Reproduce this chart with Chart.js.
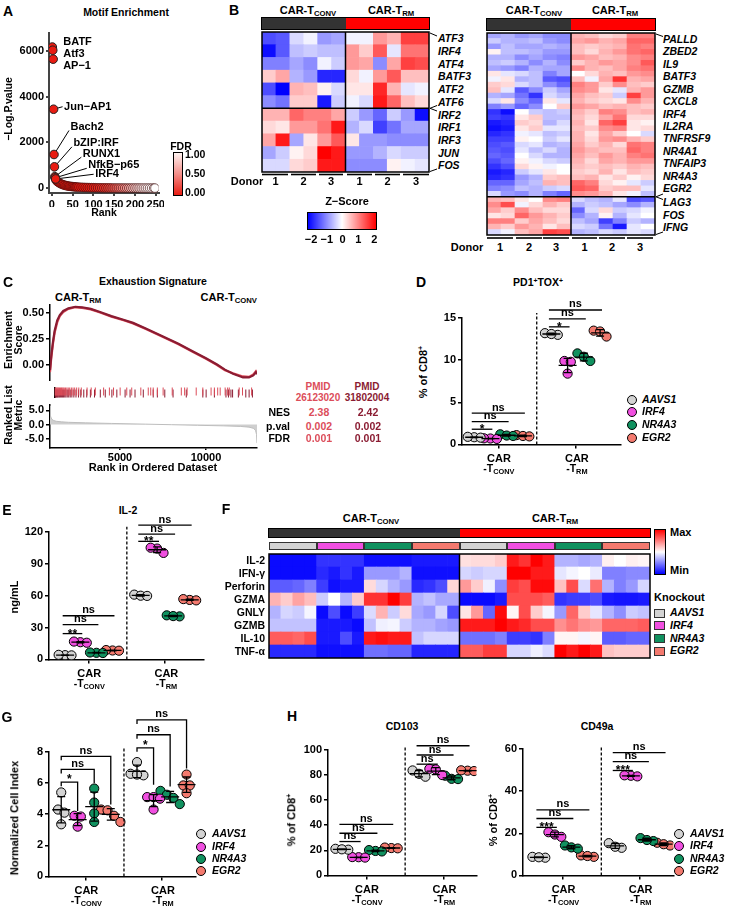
<!DOCTYPE html>
<html>
<head>
<meta charset="utf-8">
<title>CAR-T figure</title>
<script src="https://cdn.jsdelivr.net/npm/chart.js@4.4.0/dist/chart.umd.min.js"></script>
<style>
  html, body { margin: 0; padding: 0; background: #fff; }
  #root { position: relative; width: 737px; height: 909px; overflow: hidden;
          font-family: 'Liberation Sans', Arial, sans-serif; font-weight: bold; color: #000; }
  #root canvas { position: absolute; }
  .t { position: absolute; white-space: nowrap; line-height: 1.05; }
  .sb { font-size: 70%; position: relative; top: 0.3em; }
  .sp { font-size: 65%; position: relative; top: -0.5em; }
  .box { position: absolute; box-sizing: border-box; }
</style>
</head>
<body>
<div id="root"></div>
<script>
// ---------------- data ----------------
// A - motif enrichment
const motifRank = [1,2,3,4,5,6,7,8,9,
  10,13,16,19,22,25,28,31,34,37,40,43,46,49,52,55,58,61,
  65,70,75,80,85,90,95,100,105,110,115,120,125,130,135,140,145,150,155,160,165,170,175,180,185,190,195,200,205,210,215,220,225,230,235,240,245,248];
const motifLogP = [6170,6030,5640,3450,1470,930,500,450,400,
  340,285,245,210,182,160,140,124,110,98,88,80,72,66,60,55,50,46,
  42,37,33,29,26,23,21,19,17,15,14,12,11,10,9,8,7,6,6,5,5,4,4,3,3,3,2,2,2,2,1,1,1,1,1,0,0,0];
const motifFdr  = [0,0,0,0,0,0,0,0,0,
  0,0,0,0,0,0,0,0,0,0,0,0,0,0,0,0,0,0,
  0,0,0.01,0.01,0.02,0.02,0.03,0.04,0.05,0.06,0.08,0.1,0.12,0.14,0.17,0.2,0.23,0.27,0.31,0.35,
  0.4,0.45,0.5,0.55,0.6,0.65,0.7,0.75,0.79,0.83,0.87,0.9,0.93,0.95,0.97,0.98,0.99,1.0];
const motifNames = ['BATF', 'Atf3', 'AP\u22121', 'Jun\u2212AP1', 'Bach2', 'bZIP:IRF', 'RUNX1', 'NfkB\u2212p65', 'IRF4'];
const fdrTicks = ['1.00', '0.50', '0.00'];

// B - z-scores, 12 columns: CAR-Tconv donor 1,1,2,2,3,3 then CAR-Trm donor 1,1,2,2,3,3
const tfGenes = ['ATF3','IRF4','ATF4','BATF3','ATF2','ATF6','IRF2','IRF1','IRF3','JUN','FOS'];
const tfZ = [
  [-1.4,-1.3,-0.3,-0.1,-0.8,-0.7, -0.1,-0.1,0.8,0.6,1.5,1.5],
  [-1.9,-1.3,-0.5,-0.4,-0.5,-0.5, 0.8,0.4,1.3,-0.2,1.1,1.1],
  [-1.0,-1.0,-0.7,-0.9,-0.1,-0.4, 0.8,0.7,-0.9,0.7,1.5,1.4],
  [0.4,0.7,-0.6,-0.8,-1.7,-1.7, 0.3,-0.1,0.8,1.3,0.5,0.5],
  [-1.4,-2.2,0.6,0.5,0.1,-0.3, 0.2,0.2,1.7,0.6,-0.2,-0.1],
  [-0.9,-1.1,0.4,0.4,-1.8,-0.4, -0.1,-0.3,1.8,1.2,0.5,0.3],
  [0.6,0.6,1.2,1.0,1.0,0.7, -0.4,-0.8,-1.2,-0.4,-0.8,-1.9],
  [0.3,0.2,0.8,0.8,1.1,1.8, -0.6,-0.3,-1.5,-1.1,-0.7,-0.7],
  [0.7,1.8,-0.7,0.2,0.8,1.3, 0.2,-0.8,-0.8,-0.9,-0.9,-0.9],
  [-0.7,-0.4,0.1,0.3,2.2,1.8, -0.8,-0.8,-0.6,-0.3,-0.4,-0.4],
  [-0.3,-0.3,0.3,0.4,1.8,1.8, -0.9,-0.9,-0.9,0.1,-0.1,-0.2]
];
const degUp = ['PALLD','ZBED2','IL9','BATF3','GZMB','CXCL8','IRF4','IL2RA','TNFRSF9','NR4A1','TNFAIP3','NR4A3','EGR2'];
const degDown = ['LAG3','FOS','IFNG'];
const degZ = [
  [-0.7,-0.6,-0.8,-0.7,-0.9,-0.9, 0.6,0.5,0.3,0.4,1.0,1.0],
  [-0.4,-0.6,-0.6,-0.5,-0.8,-0.9, 0.7,0.8,0.6,0.7,1.2,1.2],
  [-0.8,-0.5,-0.7,-0.7,-0.6,-0.7, 0.5,0.4,0.5,0.6,1.1,1.0],
  [0.1,-0.5,-0.5,-0.6,-0.8,-0.8, 0.5,0.3,0.6,0.8,1.1,1.2],
  [-0.6,-0.6,-0.9,-0.7,-0.9,-1.0, 0.8,0.7,0.5,0.6,0.9,1.0],
  [-0.5,-0.4,-0.6,-0.9,-0.6,-0.9, 0.4,0.6,0.8,0.7,0.9,1.3],
  [-0.7,-0.8,-1.0,-0.6,-0.7,-0.7, 0.9,0.6,0.5,0.7,1.0,1.1],
  [0.2,-0.2,-0.3,-0.5,-1.0,-0.7, 0.0,0.3,0.6,0.5,0.8,0.9],
  [-0.1,0.2,-0.6,-0.5,-1.3,-1.4, 0.5,-0.1,0.7,1.6,0.6,0.7],
  [0.4,0.3,-0.3,-0.5,-0.9,-1.2, 1.0,0.8,0.4,0.9,0.5,0.4],
  [0.5,-0.2,-1.3,-0.9,-0.4,-0.7, 0.9,0.8,0.2,-0.2,0.6,0.8],
  [-0.6,-0.7,-1.1,-1.6,-0.3,-0.5, 0.7,0.5,0.4,-0.4,1.5,0.8],
  [-0.3,0.2,-0.9,-1.2,0.2,-0.2, 0.6,0.4,0.3,0.2,0.9,0.6],
  [-1.0,-0.8,-1.2,-0.9,0.0,0.4, 0.8,0.7,0.5,0.6,0.5,0.4],
  [-1.6,-1.9,0.0,-0.4,-0.5,-0.4, 0.6,0.4,1.0,0.9,0.5,0.6],
  [-1.5,-1.6,0.2,0.4,-0.5,-0.5, 0.5,0.3,0.7,1.1,0.3,0.3],
  [-1.8,-1.7,0.4,0.3,-0.6,-0.3, 0.6,0.2,1.2,1.5,0.2,0.1],
  [-1.9,-1.8,0.2,0.4,-0.2,-0.2, 0.5,0.4,0.9,1.0,0.2,0.3],
  [-1.7,-1.6,-0.1,-0.2,-0.5,-0.4, 0.6,0.2,0.7,0.4,0.0,-0.3],
  [-1.5,-1.5,0.1,0.0,-0.4,-0.2, 0.6,0.3,0.8,0.9,0.6,0.4],
  [-1.4,-1.3,-0.3,-0.2,-0.6,-0.5, 0.7,0.4,0.6,0.3,1.1,1.0],
  [-1.3,-1.4,-0.2,-0.5,-0.3,-0.6, 0.8,0.6,0.5,0.5,1.2,1.0],
  [-1.2,-1.3,0.0,-0.3,-0.6,-0.6, 0.7,0.5,0.8,0.6,1.0,1.1],
  [-1.4,-1.2,0.1,-0.1,-0.3,-0.4, 0.6,0.3,0.7,0.6,0.8,0.8],
  [-1.6,-1.4,0.3,0.1,-0.1,0.0, 0.5,0.4,0.5,0.4,0.6,0.5],
  [-1.8,-1.7,-0.4,-0.2,0.2,0.0, 0.4,0.3,0.6,0.2,0.5,0.4],
  [-1.7,-1.6,-0.8,-0.6,0.4,0.5, 0.5,0.6,0.2,0.4,0.1,0.3],
  [-1.2,-1.2,-0.7,-0.5,0.6,0.5, 1.2,1.0,0.3,0.1,-0.2,-0.4],
  [-1.0,-0.9,-0.5,-0.6,-0.4,-0.3, 1.3,1.2,0.4,0.5,0.5,-0.2],
  [-0.3,-0.8,-0.9,-0.6,-1.0,-1.2, 0.9,0.8,0.6,0.2,-0.1,-0.5],
  [0.6,0.5,0.2,0.0,0.9,1.0, -0.3,-0.5,-0.6,-0.2,-1.4,-1.3],
  [0.9,1.4,-0.1,0.3,0.6,0.4, -0.6,-0.4,-0.5,-0.7,-0.9,-0.6],
  [0.7,0.4,0.9,0.5,0.3,0.3, -1.2,-0.3,0.3,-0.4,-0.3,-0.1],
  [0.2,0.3,1.2,0.8,0.6,0.4, -0.9,-0.6,0.1,-0.6,-0.2,0.0],
  [1.0,1.0,0.4,0.7,0.5,0.3, -0.5,-0.7,-1.5,-1.0,-0.4,-0.6],
  [0.6,0.4,0.8,0.6,0.2,0.5, -0.3,-0.4,-1.1,-1.8,-0.2,0.0],
  [-0.3,-0.1,0.5,0.7,1.5,1.4, -0.6,-0.5,-0.3,-0.4,-0.2,-0.3]
];
const degUpRows = 30;
const donors = ['1', '2', '3'];
const zTicks = ['\u22122', '\u22121', '0', '1', '2'];

// C - GSEA exhaustion signature
const esRank = [930,1000,1100,1200,1350,1500,1700,2000,2400,2800,3300,3840,4500,5200,5760,6500,7500,8400,9245,10000,10640,11100,11570,12150,12500,12750,12900,12965];
const esSetA = [-0.07,0.06,0.2,0.31,0.41,0.47,0.51,0.54,0.555,0.55,0.535,0.505,0.465,0.43,0.4,0.345,0.27,0.2,0.125,0.06,0.0,-0.05,-0.08,-0.11,-0.115,-0.09,-0.06,-0.08];
const esSetB = [-0.05,0.08,0.22,0.33,0.43,0.48,0.52,0.545,0.56,0.555,0.54,0.51,0.47,0.435,0.405,0.35,0.275,0.205,0.13,0.065,0.005,-0.045,-0.085,-0.12,-0.12,-0.1,-0.07,-0.09];
const hitsA = [960,1000,1040,1090,1130,1180,1230,1290,1350,1400,1460,1520,1600,1680,1760,1850,1950,2050,2150,2270,2400,2550,2900,3150,3400,3900,4250,4500,4900,5300,5600,6150,6600,6750,6900,7150,7500,8050,8600,8800,8950,9500,9900,10400,10600,10800,10950,11250,11400,11500,12100,12300,12850];
const hitsB = [960,990,1020,1060,1100,1140,1190,1240,1300,1360,1420,1480,1550,1620,1700,1790,1880,1980,2100,2230,2380,2520,2700,2880,3100,3350,3700,4000,4400,4700,5200,5500,5800,6300,6900,7150,7600,8100,8900,9900,10100,10600,11300,11450,11600,11700,12050,12500,12700,12900];
const metricRank = [930,945,970,1000,1050,1150,1300,1600,2000,3000,4500,6500,8000,9500,11000,12000,12500,12750,12880,12940,12965];
const metricVal  = [6.5,4.2,3.0,2.3,1.8,1.4,1.15,0.95,0.8,0.6,0.4,0.15,-0.05,-0.25,-0.45,-0.65,-0.9,-1.3,-2.0,-3.5,-6.5];
const gseaPmid = ['26123020', '31802004'];
const gseaNes = ['2.38', '2.42'];
const gseaP = ['0.002', '0.002'];
const gseaFdr = ['0.001', '0.001'];

// D-H - knockouts in CAR-Tconv and CAR-Trm, one array per replicate set
const knockouts = ['AAVS1', 'IRF4', 'NR4A3', 'EGR2'];
const pd1Conv = [[0.85,0.9,0.8],[0.7,0.65,0.72],[1.2,1.05,1.0],[1.1,1.0,0.95]];
const pd1Trm  = [[13.2,13.0,13.1],[9.9,9.8,8.4],[10.8,10.4,9.9],[13.5,13.4,12.8]];
const il2Conv = [[4.0,4.3,3.8],[16.2,16.8,15.7],[6.2,6.5,6.0],[8.4,8.8,8.2]];
const il2Trm  = [[61,60,59.8],[100.3,104.4,105.2],[40.5,41.5,40.8],[56,55.6,56.8]];
const cytoRows = ['IL-2', 'IFN-\u03b3', 'Perforin', 'GZMA', 'GNLY', 'GZMB', 'IL-10', 'TNF-\u03b1'];
const cytoVals = [
  [0.02,0.02,0.02,0.02, 0.10,0.10,0.10,0.10, 0.03,0.03,0.03,0.03, 0.05,0.05,0.05,0.05, 0.56,0.57,0.57,0.60, 0.95,0.90,1.00,0.95, 0.35,0.35,0.33,0.35, 0.53,0.50,0.53,0.52],
  [0.02,0.02,0.02,0.02, 0.08,0.05,0.10,0.05, 0.30,0.30,0.30,0.35, 0.03,0.03,0.03,0.03, 0.42,0.40,0.42,0.42, 1.00,1.00,0.95,0.95, 0.45,0.48,0.50,0.46, 0.25,0.25,0.27,0.27],
  [0.18,0.18,0.20,0.25, 0.12,0.03,0.05,0.05, 0.57,0.42,0.35,0.30, 0.08,0.10,0.15,0.58, 0.70,0.60,0.47,0.28, 0.88,0.85,0.98,0.98, 0.62,0.85,0.43,0.78, 0.35,0.25,0.30,0.42],
  [0.65,0.60,0.68,0.63, 0.40,0.50,0.35,0.60, 0.90,0.90,1.00,0.88, 0.35,0.38,0.33,0.33, 0.02,0.02,0.02,0.05, 0.85,0.85,0.85,0.82, 0.10,0.12,0.12,0.15, 0.05,0.04,0.04,0.05],
  [0.35,0.42,0.40,0.48, 0.02,0.15,0.02,0.12, 0.43,0.65,0.40,0.57, 0.33,0.30,0.42,0.15, 0.55,0.70,0.20,0.98, 0.52,0.85,0.60,0.48, 0.30,0.80,0.60,0.45, 0.35,0.28,0.40,0.38],
  [0.38,0.38,0.38,0.38, 0.05,0.05,0.05,0.02, 0.38,0.47,0.48,0.40, 0.35,0.35,0.32,0.30, 0.95,0.95,0.95,1.00, 0.95,0.92,0.85,0.85, 0.72,0.77,0.72,0.70, 0.80,0.80,0.80,0.82],
  [0.82,0.82,0.80,0.85, 0.05,0.05,0.15,0.05, 0.95,0.97,0.95,0.95, 0.38,0.42,0.42,0.42, 0.22,0.22,0.22,0.25, 0.12,0.12,0.10,0.25, 0.52,0.52,0.48,0.52, 0.18,0.18,0.20,0.20],
  [0.08,0.08,0.08,0.08, 0.03,0.03,0.03,0.03, 0.22,0.22,0.20,0.20, 0.07,0.07,0.07,0.07, 0.82,0.82,0.88,0.88, 0.42,0.42,0.47,0.43, 1.00,0.95,1.00,0.95, 0.62,0.60,0.60,0.60]
];
const ciConv = [[5.4,4.3,4.1,3.35],[3.9,3.85,3.2],[5.65,4.75,4.05,3.5],[4.3,4.25,3.9,3.5]];
const ciTrm  = [[7.35,6.6,6.5,6.55],[5.1,5.1,5.0,4.3],[5.5,5.25,5.05,4.65],[6.55,5.85,5.85,5.35]];
const cd103Conv = [[21.2,20.5,20.8],[14.5,14.2,14.6],[19.5,19.1,20.2],[21.8,22.2,21.6]];
const cd103Trm  = [[83.7,81,78.7],[85,84.5,80],[79.5,77,76.8],[83.5,83.8,83.2]];
const cd49Conv = [[8.4,8.8,8.6],[20.5,19.4,18.3],[14.2,13.3,12.7],[9.5,8.8,9.2]];
const cd49Trm  = [[15.3,13.1,13.6],[47.3,47.0,47.5],[17.7,16.3,16.8],[15.5,14.2,14.8]];

// ---------------- styles ----------------
const koColors = ['#d3d3d3', '#f04fe0', '#10915f', '#f47a6f'];
const gseaLight = '#dc4d5a', gseaDark = '#8b1c32';
const FONT = "'Liberation Sans', Arial, sans-serif";

Chart.defaults.font.family = FONT;
Chart.defaults.font.size = 11;
Chart.defaults.font.weight = 'bold';
Chart.defaults.color = '#000';
Chart.defaults.animation = false;
Chart.defaults.responsive = false;
Chart.defaults.maintainAspectRatio = false;
Chart.defaults.events = [];
Chart.defaults.plugins.legend.display = false;
Chart.defaults.plugins.tooltip.enabled = false;

const root = document.getElementById('root');

function T(x, y, html, o = {}) {
  const d = document.createElement('div');
  d.className = 't';
  d.innerHTML = html;
  const s = d.style;
  s.left = x + 'px';
  s.top = y + 'px';
  s.fontSize = (o.fs || 11) + 'px';
  if (o.it) s.fontStyle = 'italic';
  if (o.c) s.color = o.c;
  if (o.lh) s.lineHeight = o.lh;
  s.textAlign = 'center';
  const tx = o.a === 'l' ? '0' : o.a === 'r' ? '-100%' : '-50%';
  s.transform = 'translate(' + tx + ',-50%)' + (o.rot ? ' rotate(-90deg)' : '');
  root.appendChild(d);
  return d;
}
function R(x0, y0, x1, y1, bg, bd) {
  const d = document.createElement('div');
  d.className = 'box';
  d.style.left = x0 + 'px'; d.style.top = y0 + 'px';
  d.style.width = (x1 - x0) + 'px'; d.style.height = (y1 - y0) + 'px';
  d.style.background = bg;
  if (bd) d.style.border = bd;
  root.appendChild(d);
  return d;
}
function canvasAt(box, pad) {
  const c = document.createElement('canvas');
  const w = box[2] - box[0] + pad.l + pad.r, h = box[3] - box[1] + pad.t + pad.b;
  c.width = w; c.height = h;
  c.style.left = (box[0] - pad.l) + 'px';
  c.style.top = (box[1] - pad.t) + 'px';
  c.style.width = w + 'px'; c.style.height = h + 'px';
  root.appendChild(c);
  return c;
}
function fitY(w) { return s => { s.width = w; s.paddingTop = 0; s.paddingBottom = 0; s.paddingLeft = 0; s.paddingRight = 0; }; }
function fitX(h) { return s => { s.height = h; s.paddingTop = 0; s.paddingBottom = 0; s.paddingLeft = 0; s.paddingRight = 0; }; }
// ticks at multiples of step inside [min, max]
function stepTicks(min, max, step) {
  return s => {
    const out = [];
    for (let k = Math.ceil(min / step - 1e-9); k * step <= max + 1e-9; k++) out.push({value: Math.round(k * step * 1e6) / 1e6});
    s.ticks = out;
  };
}
function linAxis(min, max, step, fit, fmt, col = '#000', bw = 1.5, tl = 4, pd = 2) {
  return {
    type: 'linear', min, max, afterFit: fit, afterBuildTicks: stepTicks(min, max, step),
    border: {display: true, color: col, width: bw},
    grid: {display: true, drawOnChartArea: false, drawTicks: true, tickLength: tl, color: col, lineWidth: bw},
    ticks: {padding: pd, autoSkip: false, maxRotation: 0, minRotation: 0,
            color: '#000', font: {size: 11, weight: 'bold'}, callback: v => fmt ? fmt(v) : String(v)}
  };
}
function zCol(z) {
  const t = Math.max(-1, Math.min(1, z / 2));
  if (t < 0) { const k = Math.round(255 * (1 + t)); return `rgb(${k},${k},255)`; }
  const k = Math.round(255 * (1 - t)); return `rgb(255,${k},${k})`;
}
function fdrCol(f) {
  return `rgb(${Math.round(232 + 23 * f)},${Math.round(28 + 227 * f)},${Math.round(18 + 237 * f)})`;
}

// ---------------- A ----------------
const motifLabelAt = [[11,-5,0],[10.5,3.5,0],[10,7,0],[10.5,-2.5,1],[16.5,-27.5,1],[19,-23.5,1],[28,-23,1],[33,-13,1],[39.5,-4.7,1]];
(function () {
  const box = [49, 30, 160, 193];
  const c = canvasAt(box, {l: 40, t: 2, r: 4, b: 14});
  const pts = motifRank.map((r, i) => ({x: r, y: motifLogP[i]}));
  const labels = {
    id: 'motifLabels',
    beforeDatasetsDraw(ch) {
      const {ctx, scales: {x, y}} = ch;
      ctx.save(); ctx.strokeStyle = '#000'; ctx.lineWidth = 1;
      motifNames.forEach((n, i) => {
        const [dx, dy, ln] = motifLabelAt[i];
        if (!ln) return;
        const px = x.getPixelForValue(motifRank[i]), py = y.getPixelForValue(motifLogP[i]);
        ctx.beginPath(); ctx.moveTo(px, py);
        ctx.lineTo(px + dx - 1.5, py + dy + (dy < -5 ? 3.5 : 0)); ctx.stroke();
      });
      ctx.restore();
    },
    afterDatasetsDraw(ch) {
      const {ctx, scales: {x, y}} = ch;
      ctx.save(); ctx.fillStyle = '#000'; ctx.font = 'bold 11px ' + FONT;
      ctx.textAlign = 'left'; ctx.textBaseline = 'middle';
      motifNames.forEach((n, i) => {
        const [dx, dy] = motifLabelAt[i];
        ctx.fillText(n, x.getPixelForValue(motifRank[i]) + dx, y.getPixelForValue(motifLogP[i]) + dy);
      });
      ctx.restore();
    }
  };
  new Chart(c, {
    type: 'scatter',
    data: {datasets: [
      {data: pts.slice(0, 9), pointRadius: 4.3, pointBorderWidth: 1, pointBorderColor: '#222',
       pointBackgroundColor: motifFdr.slice(0, 9).map(fdrCol)},
      {data: pts.slice(9), pointRadius: 4.3, pointBorderWidth: 0.8, pointBorderColor: 'rgba(60,10,10,0.8)',
       pointBackgroundColor: motifFdr.slice(9).map(fdrCol)}
    ]},
    options: {
      layout: {padding: {left: 0, top: 2, right: 4, bottom: 0}},
      scales: {
        x: linAxis(-7, 257, 50, fitX(14), null, '#444', 2, 3),
        y: linAxis(-214, 6771, 2000, fitY(40), null, '#444', 2, 3)
      }
    },
    plugins: [labels]
  });
})();
T(8, 11, 'A', {fs: 14});
T(126, 13, 'Motif Enrichment', {fs: 10.5});
T(9, 109, '\u2212Log.P.value', {fs: 10.5, rot: 1});
T(104, 213, 'Rank', {fs: 10.5});
T(181, 147, 'FDR', {fs: 10.5});
R(173, 152, 183, 196, 'linear-gradient(to bottom,#fff4f2,' + fdrCol(0.5) + ',' + fdrCol(0) + ')', '1px solid #000');
fdrTicks.forEach((t, i) => T(185, 154.5 + i * 19.2, t, {a: 'l', fs: 10.5}));

// ---------------- heatmap helper ----------------
function heatmap(box, rows, colorOf, splitCol, splitRow) {
  const c = canvasAt(box, {l: 1, t: 1, r: 1, b: 1});
  const nR = rows.length;
  const datasets = rows.map(r => ({
    data: r.map(() => 1), backgroundColor: r.map(colorOf), borderWidth: 0,
    barPercentage: 1, categoryPercentage: 1
  })).reverse();
  const frameLines = {
    id: 'frameLines',
    afterDatasetsDraw(ch) {
      const {ctx, chartArea: a, scales: {x, y}} = ch;
      ctx.save(); ctx.strokeStyle = '#000'; ctx.lineWidth = 1.5;
      ctx.strokeRect(a.left, a.top, a.right - a.left, a.bottom - a.top);
      ctx.beginPath();
      if (splitCol) {
        const sx = (x.getPixelForValue(splitCol - 1) + x.getPixelForValue(splitCol)) / 2;
        ctx.moveTo(sx, a.top); ctx.lineTo(sx, a.bottom);
      }
      if (splitRow) {
        const sy = y.getPixelForValue(nR - splitRow);
        ctx.moveTo(a.left, sy); ctx.lineTo(a.right, sy);
      }
      ctx.stroke(); ctx.restore();
    }
  };
  new Chart(c, {
    type: 'bar',
    data: {labels: rows[0].map((_, j) => j + 1), datasets},
    options: {
      layout: {padding: 1},
      scales: {
        x: {stacked: true, display: false},
        y: {stacked: true, display: false, min: 0, max: nR}
      }
    },
    plugins: [frameLines]
  });
}

// ---------------- B ----------------
T(234, 10, 'B', {fs: 14});
heatmap([262, 32, 429, 172], tfZ, zCol, 6, 6);
heatmap([487, 33, 655, 235], degZ, zCol, 6, degUpRows);
[[262, 18, 429, 29, 308, 391], [487, 19, 655, 30, 534, 615]].forEach(([x0, y0, x1, y1, c1, c2]) => {
  const mid = (x0 + x1) / 2;
  R(x0, y0, mid, y1, '#333');
  R(mid, y0, x1, y1, '#ff0000');
  R(x0 - 1, y0 - 1, x1 + 1, y1 + 1, 'transparent', '1.5px solid #000');
  T(c1, 11, 'CAR-T<span class="sb">CONV</span>', {fs: 11});
  T(c2, 11, 'CAR-T<span class="sb">RM</span>', {fs: 11});
});
tfGenes.forEach((g, i) => T(438, 32 + (i + 0.5) * 140 / tfGenes.length + 0.8, g, {a: 'l', it: 1, fs: 10.5}));
degUp.forEach((g, i) => T(663, 40 + i * 12.42, g, {a: 'l', it: 1, fs: 10.5}));
degDown.forEach((g, i) => T(663, 203 + i * 12.5, g, {a: 'l', it: 1, fs: 10.5}));
T(247, 182, 'Donor', {fs: 11});
T(467, 248, 'Donor', {fs: 11});
[275.5, 303.5, 331, 359.5, 387.5, 416].forEach((x, i) => T(x, 182, donors[i % 3], {fs: 11}));
[500, 529, 556, 584.5, 612, 640].forEach((x, i) => T(x, 248, donors[i % 3], {fs: 11}));
T(347, 202, 'Z\u2212Score', {fs: 11});
R(307, 212, 377, 230, 'linear-gradient(to right,#0000ff,#ffffff,#ff0000)', '1.5px solid #000');
zTicks.forEach((t, i) => T(311 + i * 15.8, 240, t, {fs: 11}));

// ---------------- C ----------------
T(8, 282, 'C', {fs: 14});
T(153, 282, 'Exhaustion Signature', {fs: 10.5});
T(55, 298, 'CAR-T<span class="sb">RM</span>', {a: 'l', fs: 11});
T(257, 298, 'CAR-T<span class="sb">CONV</span>', {a: 'r', fs: 11});
(function () {
  const xr = {type: 'linear', min: 930, max: 12965, display: false};
  const c1 = canvasAt([50, 305, 257, 381], {l: 34, t: 2, r: 3, b: 0});
  new Chart(c1, {
    type: 'scatter',
    data: {datasets: [
      {data: esRank.map((r, i) => ({x: r, y: esSetB[i]})), showLine: true, borderColor: gseaDark, borderWidth: 2.2, pointRadius: 0},
      {data: esRank.map((r, i) => ({x: r, y: esSetA[i]})), showLine: true, borderColor: gseaLight, borderWidth: 2.2, pointRadius: 0}
    ]},
    options: {
      layout: {padding: {left: 0, top: 2, right: 3, bottom: 0}},
      scales: {x: xr, y: linAxis(-0.154, 0.577, 0.25, fitY(34), v => v.toFixed(2))}
    }
  });
  const c2 = canvasAt([50, 381, 257, 404], {l: 2, t: 0, r: 3, b: 0});
  const hitSet = (arr, lvl, col) => ({
    data: arr.map(r => ({x: r, y: lvl})), pointStyle: 'line', pointRotation: 90, pointRadius: 5.5,
    pointBorderColor: col, pointBorderWidth: 1
  });
  new Chart(c2, {
    type: 'scatter',
    data: {datasets: [hitSet(hitsA, 1, gseaLight), hitSet(hitsB, 0, gseaDark)]},
    options: {
      layout: {padding: {left: 0, top: 0, right: 3, bottom: 0}},
      scales: {
        x: xr,
        y: {type: 'linear', min: -0.5, max: 1.5, afterFit: fitY(2), ticks: {display: false},
            grid: {display: false}, border: {display: true, color: '#000', width: 1.5}}
      }
    }
  });
  const c3 = canvasAt([50, 404, 257, 448], {l: 34, t: 0, r: 3, b: 14});
  new Chart(c3, {
    type: 'scatter',
    data: {datasets: [{data: metricRank.map((r, i) => ({x: r, y: metricVal[i]})), showLine: true, fill: 'origin',
      backgroundColor: '#cfcfcf', borderColor: '#bdbdbd', borderWidth: 1, pointRadius: 0}]},
    options: {
      layout: {padding: {left: 0, top: 0, right: 3, bottom: 0}},
      scales: {
        x: linAxis(930, 12965, 5000, fitX(14), null, '#000', 1.5, 2, 1),
        y: linAxis(-8.2, 7.2, 5, fitY(34), v => v.toFixed(1))
      }
    }
  });
})();
T(13, 340, 'Enrichment<br>Score', {fs: 10.5, rot: 1, lh: '10px'});
T(13, 415, 'Ranked List<br>Metric', {fs: 10.5, rot: 1, lh: '10px'});
T(153, 468, 'Rank in Ordered Dataset', {fs: 11});
[318, 367].forEach((x, k) => {
  const col = k ? gseaDark : gseaLight;
  T(x, 387, 'PMID', {fs: 10, c: col});
  T(x, 398, gseaPmid[k], {fs: 10, c: col});
  T(x + 1, 413, gseaNes[k], {fs: 10.5, c: col});
  T(x + 1, 426.5, gseaP[k], {fs: 10.5, c: col});
  T(x + 1, 439, gseaFdr[k], {fs: 10.5, c: col});
});
T(290, 413, 'NES', {a: 'r', fs: 10.5});
T(290, 426.5, 'p.val', {a: 'r', fs: 10.5});
T(290, 439, 'FDR', {a: 'r', fs: 10.5});

// ---------------- dot plots ----------------
function spread(vals, pyu, pxu) {
  const idx = vals.map((v, i) => i).sort((a, b) => vals[b] - vals[a]);
  const offs = vals.map(() => 0);
  let cl = [idx[0]];
  const flush = () => cl.forEach((k, n) => { offs[k] = (n - (cl.length - 1) / 2) * 6.5 / pxu; });
  for (let n = 1; n < idx.length; n++) {
    if ((vals[cl[cl.length - 1]] - vals[idx[n]]) * pyu < 7) cl.push(idx[n]);
    else { flush(); cl = [idx[n]]; }
  }
  flush();
  return offs;
}
function dotPlot(cfg) {
  const {box, pad, yMax, yStep, xMax, pos, div, divTop, data, sig, legs} = cfg;
  const pxu = (box[2] - box[0]) / xMax, pyu = (box[3] - box[1]) / yMax;
  const c = canvasAt(box, pad);
  const datasets = knockouts.map((k, i) => {
    const pts = [];
    data.forEach((grp, g) => {
      const offs = spread(grp[i], pyu, pxu);
      grp[i].forEach((v, j) => pts.push({x: pos[g][i] + offs[j], y: v}));
    });
    return {label: k, data: pts, pointRadius: 4.6, pointBackgroundColor: koColors[i],
            pointBorderColor: '#000', pointBorderWidth: 1};
  });
  const centers = pos.map(p => (p[0] + p[3]) / 2);
  const deco = {
    id: 'deco',
    afterDatasetsDraw(ch) {
      const {ctx, chartArea: a, scales: {x, y}} = ch;
      ctx.save();
      ctx.strokeStyle = '#000'; ctx.lineWidth = 1.3;
      // mean and SD
      data.forEach((grp, g) => grp.forEach((vals, i) => {
        const m = vals.reduce((s, v) => s + v, 0) / vals.length;
        const sd = Math.sqrt(vals.reduce((s, v) => s + (v - m) * (v - m), 0) / (vals.length - 1));
        const cx = x.getPixelForValue(pos[g][i]);
        const ym = y.getPixelForValue(m), yt = y.getPixelForValue(m + sd), yb = y.getPixelForValue(m - sd);
        ctx.beginPath();
        ctx.moveTo(cx - 9, ym); ctx.lineTo(cx + 9, ym);
        ctx.moveTo(cx, yt); ctx.lineTo(cx, yb);
        ctx.moveTo(cx - 4, yt); ctx.lineTo(cx + 4, yt);
        ctx.moveTo(cx - 4, yb); ctx.lineTo(cx + 4, yb);
        ctx.stroke();
      }));
      // divider
      ctx.setLineDash([3, 2]);
      ctx.beginPath();
      ctx.moveTo(x.getPixelForValue(div), a.bottom); ctx.lineTo(x.getPixelForValue(div), y.getPixelForValue(divTop));
      ctx.stroke();
      ctx.setLineDash([]);
      // significance
      ctx.fillStyle = '#000'; ctx.textAlign = 'center'; ctx.textBaseline = 'alphabetic';
      sig.forEach(([g, to, yv, lab, legEnd]) => {
        const yy = y.getPixelForValue(yv);
        let x1, x2;
        ctx.beginPath();
        if (legs) {
          x1 = x.getPixelForValue(pos[g][0]); x2 = x.getPixelForValue(pos[g][to]);
          ctx.moveTo(x1, yy + 4); ctx.lineTo(x1, yy); ctx.lineTo(x2, yy); ctx.lineTo(x2, y.getPixelForValue(legEnd));
        } else {
          x1 = x.getPixelForValue(pos[g][0] - 0.15); x2 = x.getPixelForValue(pos[g][to] + 0.12);
          ctx.moveTo(x1, yy); ctx.lineTo(x2, yy);
        }
        ctx.stroke();
        const star = lab.indexOf('*') >= 0;
        ctx.font = 'bold ' + (star ? 12 : 11) + 'px ' + FONT;
        ctx.fillText(lab, (x1 + x2) / 2, star ? yy + (legs ? 1 : 4) : yy - 2.5);
      });
      ctx.restore();
    }
  };
  new Chart(c, {
    type: 'scatter',
    data: {datasets},
    options: {
      layout: {padding: {left: 0, top: pad.t, right: pad.r, bottom: 0}},
      scales: {
        x: {type: 'linear', min: 0, max: xMax, afterFit: fitX(pad.b),
            afterBuildTicks: s => { s.ticks = centers.map(v => ({value: v})); },
            border: {display: true, color: '#000', width: 1.5},
            grid: {drawOnChartArea: false, drawTicks: true, tickLength: 4, color: '#000', lineWidth: 1.5},
            ticks: {display: false}},
        y: linAxis(0, yMax, yStep, fitY(pad.l))
      }
    },
    plugins: [deco]
  });
  centers.forEach((cv, g) => {
    const px = box[0] + cv * pxu;
    T(px, box[3] + 13, 'CAR', {fs: 11});
    T(px, box[3] + 23, '-T<span class="sb">' + (g ? 'RM' : 'CONV') + '</span>', {fs: 10.5});
  });
}
function legend(cx, y0, dy, tx) {
  knockouts.forEach((k, i) => {
    const d = R(cx - 5, y0 + i * dy - 5, cx + 5, y0 + i * dy + 5, koColors[i], '1.3px solid #000');
    d.style.borderRadius = '50%';
    T(tx, y0 + i * dy, k, {a: 'l', it: 1, fs: 10.5});
  });
}

// D
T(421, 282, 'D', {fs: 14});
T(538, 283, 'PD1<span class="sp">+</span>TOX<span class="sp">+</span>', {fs: 10.5});
dotPlot({box: [462, 318, 622, 446], pad: {l: 28, t: 42, r: 4, b: 4}, yMax: 15, yStep: 5, xMax: 9.75,
  pos: [[0.75, 1.75, 2.75, 3.75], [5.5, 6.5, 7.5, 8.5]], div: 4.6, divTop: 15.6, data: [pd1Conv, pd1Trm],
  sig: [[0, 1, 1.8, '*'], [0, 2, 2.7, 'ns'], [0, 3, 3.7, 'ns'], [1, 1, 13.95, '*'], [1, 2, 14.9, 'ns'], [1, 3, 15.95, 'ns']]});
T(424, 372, '% of CD8<span class="sp">+</span>', {fs: 11, rot: 1});
legend(632, 399.5, 12.8, 642);

// E
T(7, 510, 'E', {fs: 14});
T(128, 511, 'IL-2', {fs: 10.5});
dotPlot({box: [49, 532, 205, 661], pad: {l: 30, t: 26, r: 4, b: 4}, yMax: 120, yStep: 30, xMax: 9.6,
  pos: [[1, 1.95, 2.95, 3.95], [5.7, 6.72, 7.72, 8.75]], div: 4.84, divTop: 125, data: [il2Conv, il2Trm],
  sig: [[0, 1, 24.3, '**'], [0, 2, 32.7, 'ns'], [0, 3, 41.1, 'ns'], [1, 1, 111.2, '**'], [1, 2, 118, 'ns'], [1, 3, 126.4, 'ns']]});
T(15, 597, 'ng/mL', {fs: 11, rot: 1});

// F
T(226, 509, 'F', {fs: 14});
T(371, 519, 'CAR-T<span class="sb">CONV</span>', {fs: 11});
T(555, 519, 'CAR-T<span class="sb">RM</span>', {fs: 11});
R(269, 529, 460, 537, '#333');
R(460, 529, 650, 537, '#ff0000');
R(268, 528, 651, 538, 'transparent', '1.3px solid #000');
for (let k = 0; k < 8; k++) {
  const x0 = 269 + k * (381 / 8);
  R(x0, 542, x0 + 381 / 8, 550, koColors[k % 4], '1.2px solid #333');
}
heatmap([269, 554, 650, 658], cytoVals, v => zCol((v - 0.5) * 4), 16, 0);
cytoRows.forEach((r, i) => T(265, 554 + (i + 0.5) * 13, r, {a: 'r', fs: 10.5}));
R(654, 529, 666, 575, 'linear-gradient(to bottom,#ff0000,#ffffff,#0000ff)', '1.5px solid #000');
T(670, 533, 'Max', {a: 'l', fs: 11});
T(670, 571, 'Min', {a: 'l', fs: 11});
T(654, 598, 'Knockout', {a: 'l', fs: 11});
knockouts.forEach((k, i) => {
  const yc = 613 + i * 12.8;
  R(654, yc - 4.5, 665, yc + 4.5, koColors[i], '1.3px solid #333');
  T(670, yc, k, {a: 'l', it: 1, fs: 10.5});
});

// G
T(7, 717, 'G', {fs: 14});
dotPlot({box: [49, 752, 197, 878], pad: {l: 30, t: 50, r: 4, b: 4}, yMax: 8, yStep: 2, xMax: 9.1, legs: true,
  pos: [[0.76, 1.78, 2.81, 3.84], [5.47, 6.5, 7.53, 8.55]], div: 4.66, divTop: 8.34, data: [ciConv, ciTrm],
  sig: [[0, 1, 6.06, '*', 4.2], [0, 2, 6.88, 'ns', 5.99], [0, 3, 7.72, 'ns', 4.62],
        [1, 1, 8.27, '*', 5.89], [1, 2, 9.11, 'ns', 5.78], [1, 3, 10.06, 'ns', 6.94]]});
T(15, 818, 'Normalized Cell Index', {fs: 11, rot: 1});
legend(201, 834.3, 12.2, 212);

// H
T(292, 716, 'H', {fs: 14});
T(402, 727, 'CD103', {fs: 10.5});
T(597, 727, 'CD49a', {fs: 10.5});
dotPlot({box: [328, 750, 478, 877], pad: {l: 30, t: 20, r: 4, b: 4}, yMax: 100, yStep: 20, xMax: 9.1,
  pos: [[0.85, 1.88, 2.91, 3.88], [5.58, 6.61, 7.58, 8.56]], div: 4.73, divTop: 103, data: [cd103Conv, cd103Trm],
  sig: [[0, 1, 27, 'ns'], [0, 2, 33.6, 'ns'], [0, 3, 40.7, 'ns'], [1, 1, 88.7, 'ns'], [1, 2, 96, 'ns'], [1, 3, 103.4, 'ns']]});
dotPlot({box: [523, 749, 675, 877], pad: {l: 30, t: 20, r: 4, b: 4}, yMax: 60, yStep: 20, xMax: 9.2,
  pos: [[0.97, 1.95, 2.96, 3.94], [5.64, 6.6, 7.58, 8.6]], div: 4.79, divTop: 61.4, data: [cd49Conv, cd49Trm],
  sig: [[0, 1, 22.8, '***'], [0, 2, 27, 'ns'], [0, 3, 31.1, 'ns'], [1, 1, 49.8, '***'], [1, 2, 54, 'ns'], [1, 3, 58.3, 'ns']]});
T(292, 820, '% of CD8<span class="sp">+</span>', {fs: 11, rot: 1});
T(494, 820, '% of CD8<span class="sp">+</span>', {fs: 11, rot: 1});
legend(679, 834, 12.4, 690);

// decorative brackets beside the gene labels and donor underlines
const svgNS = 'http://www.w3.org/2000/svg';
const svg = document.createElementNS(svgNS, 'svg');
svg.setAttribute('width', '737'); svg.setAttribute('height', '909');
svg.style.cssText = 'position:absolute;left:0;top:0;pointer-events:none';
const segs = [
  '430,33 437,36', '437,105.5 430,108.3 437,111', '430,171.5 437,169',
  '656,34 663,36.5', '663,194 656,196.8 663,199.5', '656,234.5 663,232'
];
[[262,288],[291,316],[319,343],[347,372],[375,400],[403,429]].forEach(([a, b]) => segs.push(`${a},174.5 ${b},174.5`));
[[487,513],[516,542],[543,569],[572,597],[599,625],[627,653]].forEach(([a, b]) => segs.push(`${a},238 ${b},238`));
segs.forEach((p, i) => {
  const pl = document.createElementNS(svgNS, 'polyline');
  pl.setAttribute('points', p);
  pl.setAttribute('fill', 'none');
  pl.setAttribute('stroke', '#000');
  pl.setAttribute('stroke-width', i < 6 ? '1' : '1.6');
  svg.appendChild(pl);
});
root.appendChild(svg);
</script>
</body>
</html>
